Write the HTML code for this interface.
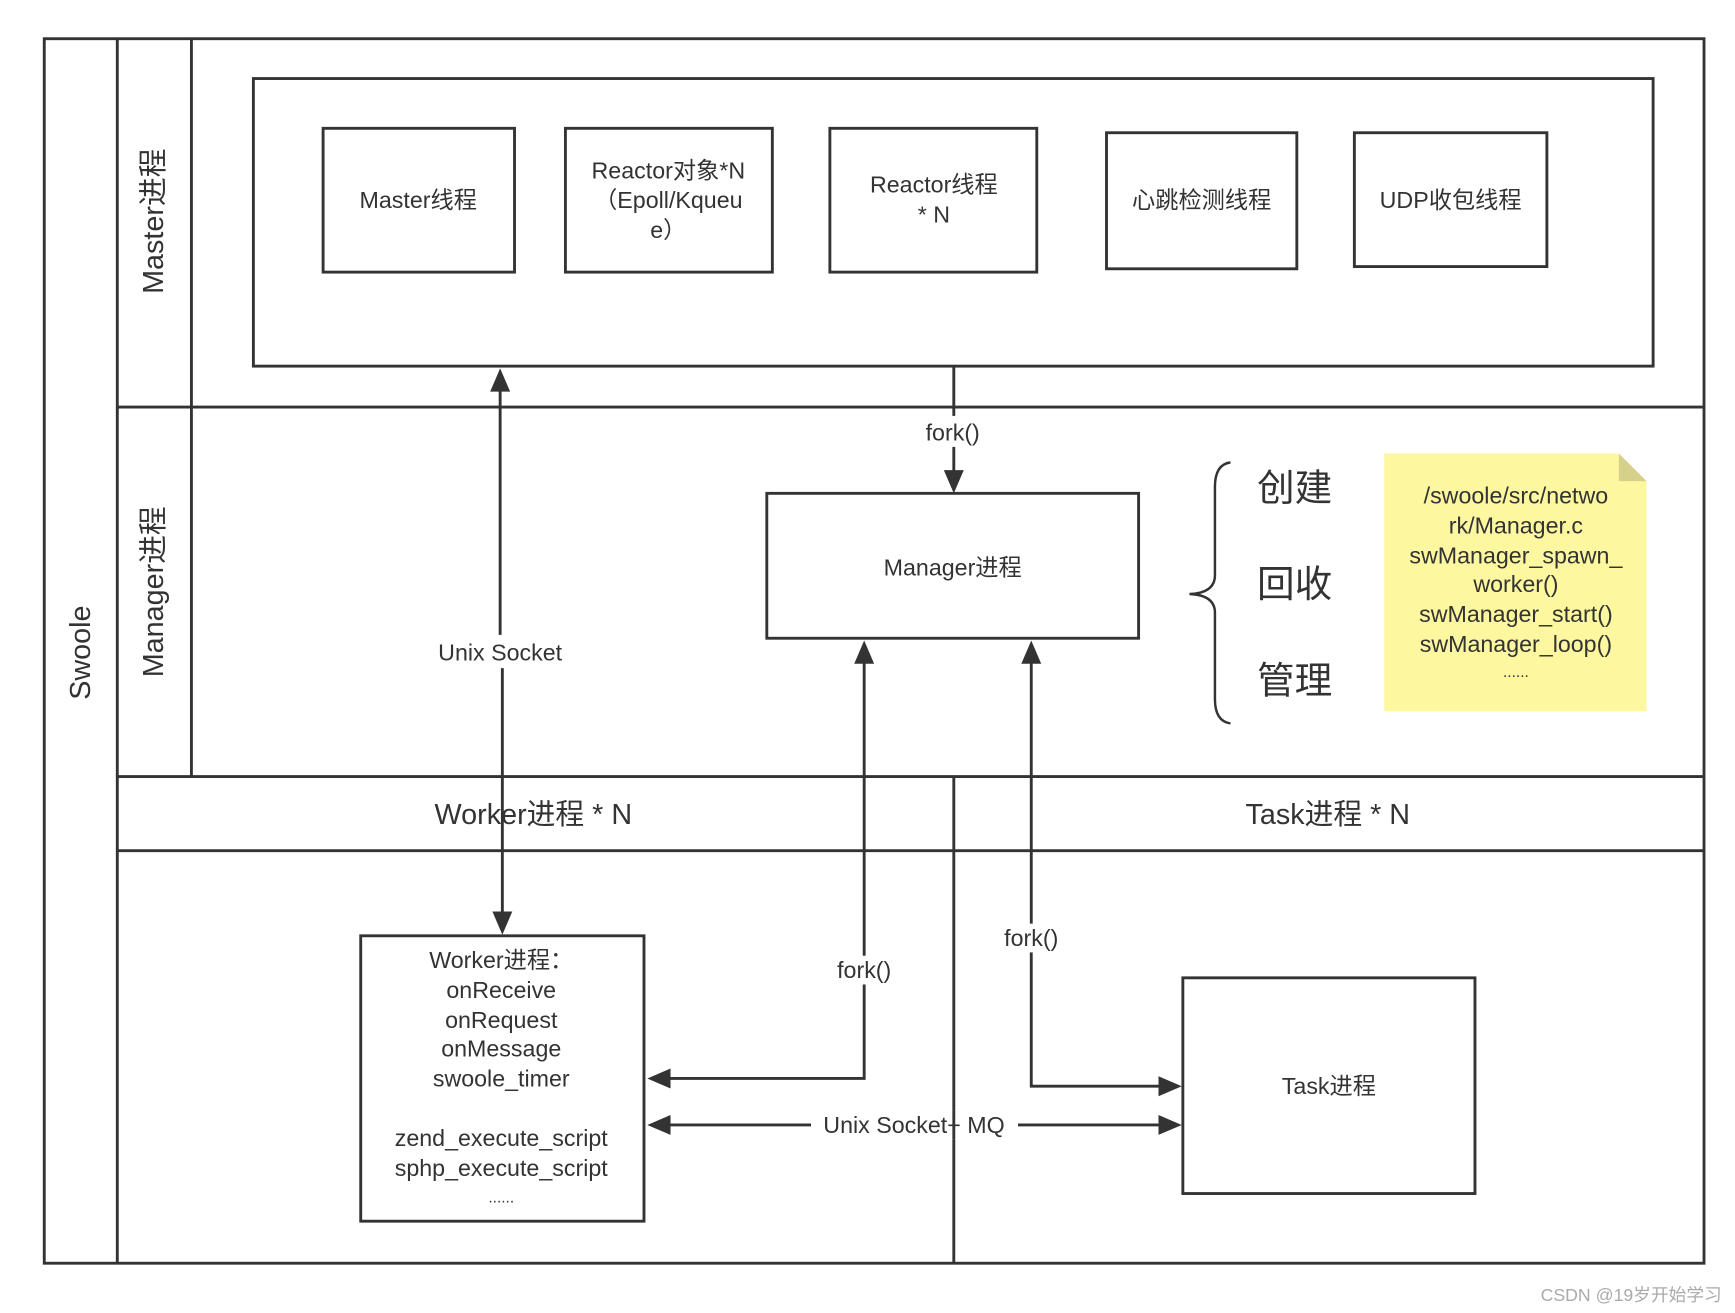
<!DOCTYPE html>
<html><head><meta charset="utf-8"><style>html,body{margin:0;padding:0;background:#fff}svg{display:block}</style></head>
<body>
<svg width="1735" height="1313" viewBox="0 0 1568 1187" preserveAspectRatio="none" xmlns="http://www.w3.org/2000/svg" font-family="'Liberation Sans','Noto Sans CJK SC',sans-serif" fill="#333">
<g fill="none" stroke="#333" stroke-width="2.6">
<rect x="40" y="35" width="1500" height="1107"/>
<line x1="106" y1="35" x2="106" y2="1142"/>
<line x1="173" y1="35" x2="173" y2="702"/>
<line x1="106" y1="368" x2="1540" y2="368"/>
<line x1="106" y1="702" x2="1540" y2="702"/>
<line x1="106" y1="769" x2="1540" y2="769"/>
<line x1="862" y1="702" x2="862" y2="1142"/>
<rect x="229" y="71" width="1265" height="260"/>
<rect x="292" y="116" width="173" height="130"/>
<rect x="511" y="116" width="187" height="130"/>
<rect x="750" y="116" width="187" height="130"/>
<rect x="1000" y="120" width="172" height="123"/>
<rect x="1224" y="120" width="174" height="121"/>
<rect x="693" y="446" width="336" height="131"/>
<rect x="326" y="846" width="256" height="258"/>
<rect x="1069" y="884" width="264" height="195"/>
<line x1="862" y1="331" x2="862" y2="376"/>
<line x1="862" y1="404" x2="862" y2="428"/>
<line x1="452" y1="352" x2="452" y2="574"/>
<line x1="454" y1="604" x2="454" y2="826"/>
<polyline points="781,598 781,975 604,975"/>
<polyline points="932,598 932,982 1049,982"/>
<line x1="604" y1="1017" x2="733" y2="1017"/>
<line x1="920" y1="1017" x2="1049" y2="1017"/>
<path d="M1112,418 Q1098,420 1098,440 L1098,520 Q1098,536 1075,537 Q1098,538 1098,554 L1098,632 Q1098,652 1112,654" stroke-width="2.2"/>
</g>
<g fill="#fff" stroke="none">
<rect x="754" y="864" width="54" height="26"/>
<rect x="905" y="835" width="54" height="26"/>
<rect x="733" y="1004" width="187" height="26"/>
</g>
<g fill="#333" stroke="none">
<polygon points="452,333 443,354 461,354"/>
<polygon points="862,446 853,425 871,425"/>
<polygon points="454,845 445,824 463,824"/>
<polygon points="781,579 772,600 790,600"/>
<polygon points="932,579 923,600 941,600"/>
<polygon points="585,975 606,966 606,984"/>
<polygon points="1068,982 1047,973 1047,991"/>
<polygon points="585,1017 606,1008 606,1026"/>
<polygon points="1068,1017 1047,1008 1047,1026"/>
</g>
<line x1="862" y1="1004" x2="862" y2="1030" stroke="#333" stroke-width="2.6"/>
<polygon points="1251,410 1463,410 1488,435 1488,643 1251,643" fill="#fdf7a0" stroke="none"/>
<polygon points="1463,410 1488,435 1463,435" fill="#d6d18a" stroke="none"/>
<g font-size="21" text-anchor="middle" dominant-baseline="central">
<text x="378" y="181">Master线程</text>
<text x="604" y="154">Reactor对象*N</text>
<text x="604" y="181">（Epoll/Kqueu</text>
<text x="604" y="208">e）</text>
<text x="844" y="167">Reactor线程</text>
<text x="844" y="194">* N</text>
<text x="1086" y="181">心跳检测线程</text>
<text x="1311" y="181">UDP收包线程</text>
<text x="861" y="391">fork()</text>
<text x="861" y="513">Manager进程</text>
<text x="452" y="590">Unix Socket</text>
<text x="781" y="877">fork()</text>
<text x="932" y="848">fork()</text>
<text x="826" y="1017">Unix Socket+ MQ</text>
<text x="1201" y="982">Task进程</text>
<text x="453" y="868">Worker进程：</text>
<text x="453" y="895">onReceive</text>
<text x="453" y="922">onRequest</text>
<text x="453" y="948">onMessage</text>
<text x="453" y="975">swoole_timer</text>
<text x="453" y="1029">zend_execute_script</text>
<text x="453" y="1056">sphp_execute_script</text>
<text x="453" y="1083" font-size="14">......</text>
<text x="1370" y="448">/swoole/src/netwo</text>
<text x="1370" y="475">rk/Manager.c</text>
<text x="1370" y="502">swManager_spawn_</text>
<text x="1370" y="528">worker()</text>
<text x="1370" y="555">swManager_start()</text>
<text x="1370" y="582">swManager_loop()</text>
<text x="1370" y="608" font-size="14">......</text>
<text x="482" y="737" font-size="26">Worker进程 * N</text>
<text x="1200" y="737" font-size="26">Task进程 * N</text>
<text x="1170" y="441" font-size="34">创建</text>
<text x="1170" y="528" font-size="34">回收</text>
<text x="1170" y="615" font-size="34">管理</text>
<text transform="translate(73,590) rotate(-90)" font-size="26">Swoole</text>
<text transform="translate(139,200) rotate(-90)" font-size="26">Master进程</text>
<text transform="translate(139,535) rotate(-90)" font-size="26">Manager进程</text>
</g>
<text x="1556" y="1176" font-size="16" fill="#aaa" text-anchor="end">CSDN @19岁开始学习</text>
</svg>
</body></html>
